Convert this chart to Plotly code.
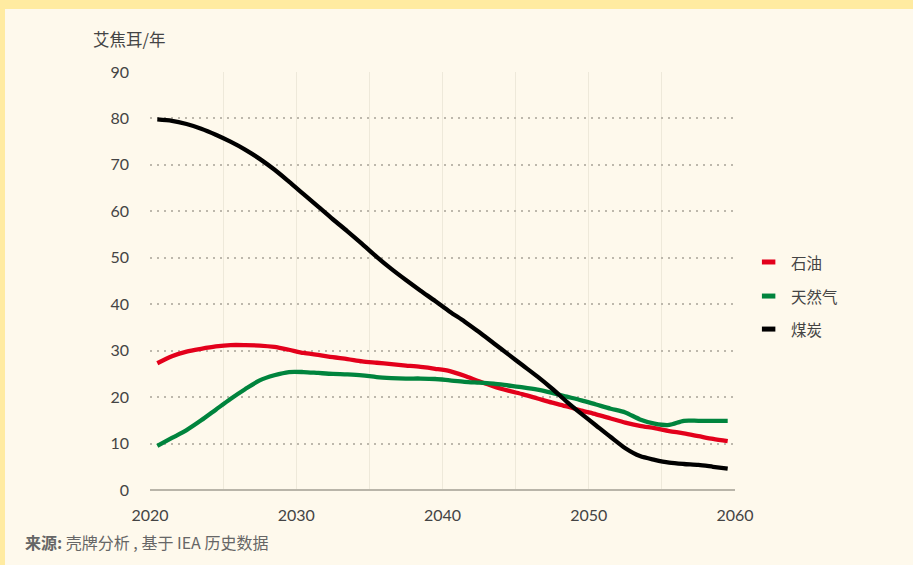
import plotly.graph_objects as go

years = [2020.5 + i for i in range(40)]
oil = [27.3, 28.8, 29.8, 30.4, 30.9, 31.2, 31.2, 31.1, 30.8, 30.2,
       29.5, 29.1, 28.6, 28.2, 27.7, 27.4, 27.1, 26.8, 26.5, 26.1,
       25.6, 24.6, 23.4, 22.3, 21.4, 20.6, 19.7, 18.8, 18.0, 17.1,
       16.3, 15.4, 14.5, 13.8, 13.3, 12.7, 12.2, 11.6, 11.0, 10.5]
gas = [9.5, 11.2, 12.9, 15.0, 17.3, 19.6, 21.7, 23.6, 24.7, 25.4,
       25.4, 25.2, 25.0, 24.9, 24.7, 24.3, 24.1, 24.0, 24.0, 23.9,
       23.6, 23.3, 23.1, 22.9, 22.5, 22.1, 21.6, 20.9, 20.1, 19.3,
       18.4, 17.5, 16.7, 15.2, 14.3, 14.0, 14.9, 14.9, 14.9, 14.9]
coal = [79.8, 79.5, 78.8, 77.8, 76.5, 75.0, 73.3, 71.3, 69.0, 66.4,
        63.7, 61.0, 58.3, 55.7, 53.0, 50.2, 47.6, 45.2, 42.9, 40.7,
        38.4, 36.3, 34.0, 31.6, 29.2, 26.8, 24.4, 21.8, 19.0, 16.4,
        13.9, 11.4, 9.0, 7.3, 6.5, 5.9, 5.6, 5.4, 5.0, 4.6]

series_names = ["石油", "天然气", "煤炭"]
series_colors = ["#E3001B", "#00843D", "#000000"]
x_ticks = [2020, 2025, 2030, 2035, 2040, 2045, 2050, 2055, 2060]
x_ticktext = ["2020", "", "2030", "", "2040", "", "2050", "", "2060"]
y_ticks = [0, 10, 20, 30, 40, 50, 60, 70, 80, 90]
unit_label = "艾焦耳/年"
source_text = "<b>来源:</b> 壳牌分析 , 基于 IEA 历史数据"

FONT = "Lato, Noto Sans CJK SC, Noto Sans, sans-serif"
CJK = "Noto Sans CJK SC, Noto Sans, sans-serif"
TXT = "#444444"
BG = "#FEF9EC"
BAND = "#FFEBA1"

fig = go.Figure()
for name, vals, col in zip(series_names, [oil, gas, coal], series_colors):
    fig.add_trace(go.Scatter(x=years, y=vals, mode="lines", name=name,
                             line=dict(color=col, width=4.3, shape="spline", smoothing=0.8),
                             showlegend=False, hoverinfo="skip"))

# manual legend
ly = [0.5455, 0.464, 0.385]
for name, col, yy in zip(series_names, series_colors, ly):
    fig.add_shape(type="line", xref="paper", yref="paper",
                  x0=1.046, x1=1.069, y0=yy, y1=yy,
                  line=dict(color=col, width=5))
    fig.add_annotation(xref="paper", yref="paper", x=1.092, y=yy, text=name,
                       showarrow=False, xanchor="left", yanchor="middle",
                       font=dict(size=15.5, color=TXT, family=CJK))

# frame bands
fig.add_shape(type="rect", xref="paper", yref="paper", x0=-0.4, x1=1.5,
              y0=(490 - 9) / 418, y1=1.4, fillcolor=BAND, line=dict(width=0), layer="below")
fig.add_shape(type="rect", xref="paper", yref="paper", x0=-0.4, x1=(5 - 150) / 585,
              y0=-0.4, y1=1.4, fillcolor=BAND, line=dict(width=0), layer="below")

fig.add_annotation(xref="paper", yref="paper", x=(91 - 150) / 585, y=(490 - 39) / 418,
                   text=unit_label, showarrow=False, xanchor="left", yanchor="middle",
                   font=dict(size=16.5, color=TXT, family=CJK))
fig.add_annotation(xref="paper", yref="paper", x=(23 - 150) / 585, y=(490 - 542) / 418,
                   text=source_text, showarrow=False, xanchor="left", yanchor="middle",
                   font=dict(size=16, color="#666666", family=CJK))

fig.update_layout(
    width=913, height=565,
    margin=dict(l=150, r=178, t=72, b=75),
    paper_bgcolor=BG, plot_bgcolor=BG,
    font=dict(family=FONT, color=TXT, size=15),
    hovermode=False,
    xaxis=dict(range=[2020, 2060], tickvals=x_ticks, ticktext=x_ticktext,
               showgrid=True, gridcolor="#EEE9DA", gridwidth=1,
               zeroline=False, showline=False, ticks="",
               ticklabelstandoff=14, tickfont=dict(size=16, color=TXT, family=FONT)),
    yaxis=dict(range=[0, 90], tickvals=y_ticks,
               showgrid=True, gridcolor="#BDB8AC", gridwidth=1.5, griddash="1.5px,5.5px",
               zeroline=True, zerolinecolor="#B9B5A9", zerolinewidth=2,
               showline=False, ticks="", ticklabelstandoff=20,
               tickfont=dict(size=16, color=TXT, family=FONT)),
)

fig.write_html("out.html", config={"displayModeBar": False},
               post_script="document.body.style.margin='0';document.body.style.overflow='hidden';")
